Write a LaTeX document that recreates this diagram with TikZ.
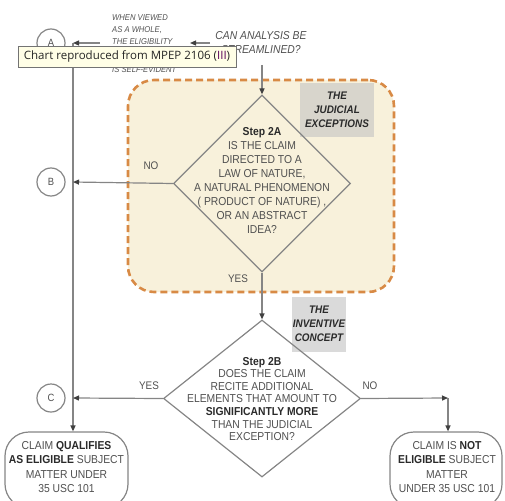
\documentclass[tikz,border=0pt]{standalone}
\usepackage{fontspec}
\setmainfont{Liberation Sans}[FakeStretch=0.9]
\newfontfamily\tipfont{Open Sans}
\usetikzlibrary{shapes.geometric,arrows.meta}
\definecolor{ln}{HTML}{858585}
\definecolor{tx}{HTML}{505050}
\definecolor{txb}{HTML}{2A2A2A}
\definecolor{orng}{HTML}{D88A45}
\definecolor{cream}{HTML}{F8F1DB}
\definecolor{greyb}{HTML}{D8D5CC}
\definecolor{greyc}{HTML}{DADADA}
\tikzset{
  conn/.style={draw=ln,line width=1.2pt},
  arr/.style={conn,-{Triangle[length=6pt,width=5pt,fill=black!75,color=black!75]}},
  lbl/.style={circle,draw=ln,line width=1.2pt,minimum size=28pt,inner sep=0pt,text=tx,font=\fontsize{10.5}{12}\selectfont},
  dia/.style={diamond,draw=ln,line width=1.2pt,inner sep=0pt},
  dtext/.style={align=center,text=tx,inner sep=0pt},
  term/.style={draw=ln,line width=1.2pt,fill=white,rounded corners=24pt},
  small/.style={text=tx,font=\fontsize{11}{12}\selectfont},
  gbox/.style={inner sep=0pt,align=center,text=txb,font=\fontsize{11}{14}\selectfont\bfseries\itshape}
}
\begin{document}
\begin{tikzpicture}[x=1pt,y=-1pt]
\useasboundingbox (0,0) rectangle (505,500);
% dashed region
\node[draw=orng,fill=cream,line width=2.6pt,dash pattern=on 7pt off 4pt,rounded corners=26pt,minimum width=266pt,minimum height=212pt,inner sep=0pt] (region) at (261,186) {};
\node[fill=greyb,minimum width=74pt,minimum height=53pt] (jbox) at (337,110) {};
\node[gbox] (jtext) at (337,110) {THE\\JUDICIAL\\EXCEPTIONS};
\node[fill=greyc,minimum width=54pt,minimum height=55pt] (ibox) at (319,324) {};
\node[gbox] (itext) at (319,324) {THE\\INVENTIVE\\CONCEPT};
% circles
\node[lbl] (A) at (51,43) {A};
\node[lbl] (B) at (51,182) {B};
\node[lbl] (C) at (51,398) {C};
% streamlined question
\node[text=tx,font=\fontsize{11.5}{14}\selectfont\itshape,align=center] (q) at (261,43) {CAN ANALYSIS BE\\STREAMLINED?};
\node[text=tx,font=\fontsize{8.5}{12}\selectfont\itshape,align=left,anchor=north west,inner sep=0pt] (wv) at (112,14) {WHEN VIEWED\\AS A WHOLE,\\THE ELIGIBILITY};
\node[text=tx,font=\fontsize{8.5}{12}\selectfont\itshape,anchor=north west,inner sep=0pt] (se) at (112,66) {IS SELF-EVIDENT};
% diamonds
\node[dia,minimum width=177pt,minimum height=177pt] (d2a) at (262,183.5) {};
\node[dtext,font=\fontsize{11.5}{14}\selectfont] (t2a) at (262,180) {{\color{txb}\bfseries Step 2A}\\IS THE CLAIM\\DIRECTED TO A\\LAW OF NATURE,\\A NATURAL PHENOMENON\\( PRODUCT OF NATURE) ,\\OR AN ABSTRACT\\IDEA?};
\node[dia,minimum width=197pt,minimum height=157pt] (d2b) at (262,398.5) {};
\node[dtext,font=\fontsize{11.5}{12.6}\selectfont] (t2b) at (262,399) {{\color{txb}\bfseries Step 2B}\\DOES THE CLAIM\\RECITE ADDITIONAL\\ELEMENTS THAT AMOUNT TO\\{\color{txb}\bfseries SIGNIFICANTLY MORE}\\THAN THE JUDICIAL\\EXCEPTION?};
% terminals
\node[term,minimum width=123pt,minimum height=76pt] (elig) at (66.5,470) {};
\node[dtext,font=\fontsize{11.5}{14.5}\selectfont] (telig) at (66.5,467) {CLAIM {\color{txb}\bfseries QUALIFIES}\\{\color{txb}\bfseries AS ELIGIBLE} SUBJECT\\MATTER UNDER\\35 USC 101};
\node[term,minimum width=112pt,minimum height=76pt] (nelig) at (446,470) {};
\node[dtext,font=\fontsize{11.5}{14.5}\selectfont] (tnelig) at (447,467) {CLAIM IS {\color{txb}\bfseries NOT}\\{\color{txb}\bfseries ELIGIBLE} SUBJECT\\MATTER\\UNDER 35 USC 101};
% coordinates on the main line
\coordinate (lA) at (73,43);
\coordinate (lB) at (73,182);
\coordinate (lC) at (73,398);
\coordinate (rC) at (448,398);
\coordinate (g1) at (100,43);
\coordinate (g2) at (210,43);
\coordinate (g3) at (190,43);
\coordinate (qb) at (262,65);
% connectors
\draw[conn] (lA) -- (lC);
\draw[arr] (lC) -- (elig.north -| lC);
\draw[arr] (g1) -- (lA);
\draw[arr] (g2) -- (g3);
\draw[arr] (qb) -- (d2a.north);
\draw[arr] (d2a.west) -- (lB);
\draw[arr] (d2a.south) -- (d2b.north);
\draw[arr] (d2b.west) -- (lC);
\draw[arr] (d2b.east) -- (rC);
\draw[arr] (rC) -- (nelig.north -| rC);
% labels
\node[small] (no1) at (151,166) {NO};
\node[small] (yes1) at (238,279) {YES};
\node[small] (yes2) at (149,386) {YES};
\node[small] (no2) at (370,386) {NO};
% tooltip
\node[draw=black!55,fill=yellow!10!white,line width=0.6pt,inner xsep=3pt,inner ysep=2pt,minimum width=218pt,minimum height=21pt,font=\tipfont\fontsize{11.5}{13}\selectfont,text=black!85] (tip) at (127,56.5) {Chart reproduced from MPEP 2106 ({\color{violet!70!black}III})};
\end{tikzpicture}
\end{document}
